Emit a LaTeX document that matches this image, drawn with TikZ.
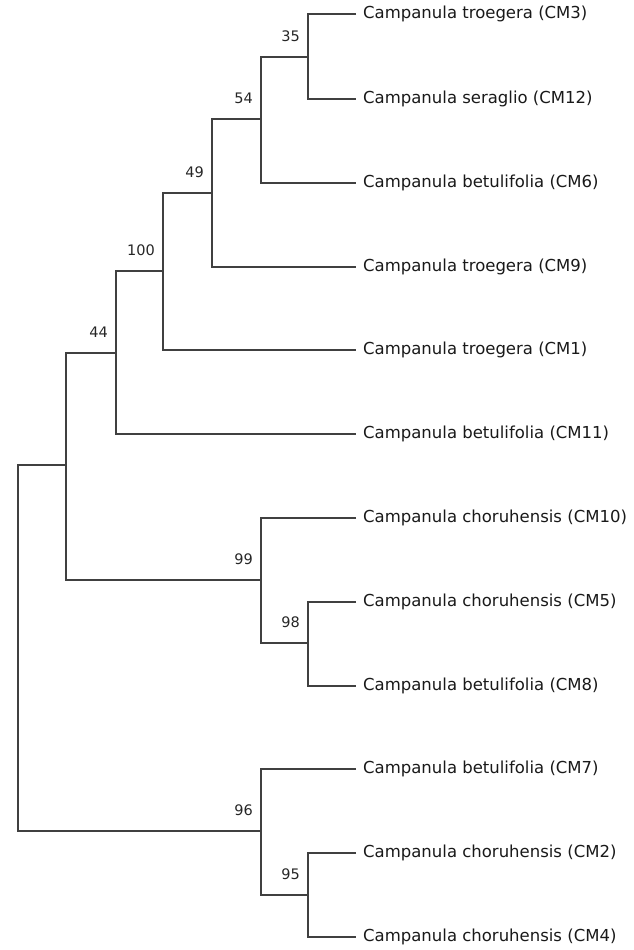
\documentclass[tikz,border=0pt]{standalone}
\usepackage{fontspec}
\setmainfont{DejaVu Sans}
\usetikzlibrary{positioning}

\tikzset{
    branch/.style={draw=black!75, line width=1.2pt},
    leaf/.style={anchor=west, inner xsep=7pt, inner ysep=0pt, text=black!90,
        font=\fontsize{16.5}{18}\selectfont},
    boot/.style={anchor=east, inner sep=0pt, text=black!85,
        font=\fontsize{14.5}{16}\selectfont}
}

\begin{document}
\begin{tikzpicture}[x=1pt, y=-1pt]

    \useasboundingbox (0, 0) rectangle (634, 950);

    % Leaves (tips of the tree)
    \foreach \nm/\y/\txt in {
        cm3/14/{Campanula troegera (CM3)},
        cm12/99/{Campanula seraglio (CM12)},
        cm6/183/{Campanula betulifolia (CM6)},
        cm9/267/{Campanula troegera (CM9)},
        cm1/350/{Campanula troegera (CM1)},
        cm11/434/{Campanula betulifolia (CM11)},
        cm10/518/{Campanula choruhensis (CM10)},
        cm5/602/{Campanula choruhensis (CM5)},
        cm8/686/{Campanula betulifolia (CM8)},
        cm7/769/{Campanula betulifolia (CM7)},
        cm2/853/{Campanula choruhensis (CM2)},
        cm4/937/{Campanula choruhensis (CM4)}} {
        \node[leaf] (\nm) at (356, \y) {\txt};
    }

    % Internal nodes
    \coordinate (n35) at (308, 57);
    \coordinate (n54) at (261, 119);
    \coordinate (n49) at (212, 193);
    \coordinate (n100) at (163, 271);
    \coordinate (n44) at (116, 353);
    \coordinate (n98) at (308, 643);
    \coordinate (n99) at (261, 580);
    \coordinate (n95) at (308, 895);
    \coordinate (n96) at (261, 831);
    \coordinate (nmid) at (66, 465);
    \coordinate (root) at (18, 648);

    % Branches
    \draw[branch] (cm3.west) -| (n35) |- (cm12.west);
    \draw[branch] (n35) -| (n54) |- (cm6.west);
    \draw[branch] (n54) -| (n49) |- (cm9.west);
    \draw[branch] (n49) -| (n100) |- (cm1.west);
    \draw[branch] (n100) -| (n44) |- (cm11.west);
    \draw[branch] (cm5.west) -| (n98) |- (cm8.west);
    \draw[branch] (cm10.west) -| (n99) |- (n98);
    \draw[branch] (cm2.west) -| (n95) |- (cm4.west);
    \draw[branch] (cm7.west) -| (n96) |- (n95);
    \draw[branch] (n44) -| (nmid) |- (n99);
    \draw[branch] (nmid) -| (root) |- (n96);

    % Bootstrap values
    \foreach \nd/\val in {n35/35, n54/54, n49/49, n100/100, n44/44,
                          n99/99, n98/98, n96/96, n95/95} {
        \node[boot] (b\nd) at ([shift={(-8, -21)}]\nd) {\val};
    }

\end{tikzpicture}
\end{document}
